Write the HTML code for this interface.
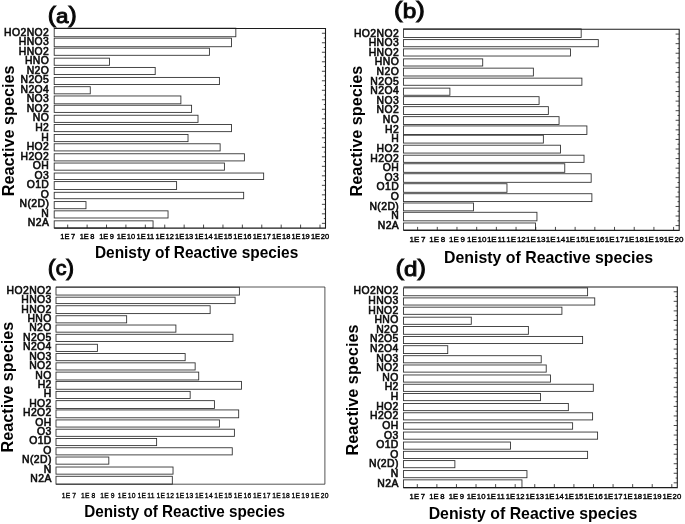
<!DOCTYPE html>
<html lang="en">
<head>
<meta charset="utf-8">
<title>Density of Reactive species</title>
<style>
html,body{margin:0;padding:0;background:#fff;}
body{width:685px;height:524px;overflow:hidden;font-family:"Liberation Sans",sans-serif;}
svg{display:block;}
text{font-family:"Liberation Sans",sans-serif;fill:#000;}
.bars rect{fill:#fff;stroke:#303030;stroke-width:0.88;}
.frame{fill:none;stroke:#1c1c1c;stroke-width:1.08;}
.ticks{fill:none;stroke:#1c1c1c;stroke-width:0.8;}
.ylab text{font-size:10.4px;font-weight:normal;text-anchor:end;stroke:#111;stroke-width:0.6px;letter-spacing:0.42px;}
.xlab text{font-size:8.3px;font-weight:normal;text-anchor:middle;stroke:#000;}
.title{font-size:16.5px;font-weight:bold;text-anchor:middle;}
.ytitle{font-size:16.7px;font-weight:bold;text-anchor:middle;}
.plabel{font-size:21.7px;font-weight:normal;text-anchor:start;stroke:#111;stroke-width:1px;}
</style>
</head>
<body>
<svg width="685" height="524" viewBox="0 0 685 524">
<rect x="0" y="0" width="685" height="524" fill="#fff"/>
<g class="panel">
<g>
<g class="bars">
<rect x="54.2" y="28.18" width="181.63" height="8.56"/>
<rect x="54.2" y="38.17" width="177.34" height="8.56"/>
<rect x="54.2" y="48.16" width="155.22" height="7.14"/>
<rect x="54.2" y="58.15" width="55.33" height="7.14"/>
<rect x="54.2" y="67.43" width="101" height="7.14"/>
<rect x="54.2" y="77.42" width="165.21" height="7.14"/>
<rect x="54.2" y="86.7" width="36.06" height="7.14"/>
<rect x="54.2" y="95.97" width="126.68" height="7.85"/>
<rect x="54.2" y="105.25" width="137.39" height="7.14"/>
<rect x="54.2" y="115.24" width="143.81" height="7.14"/>
<rect x="54.2" y="124.51" width="177.34" height="7.14"/>
<rect x="54.2" y="134.5" width="133.82" height="7.14"/>
<rect x="54.2" y="143.78" width="165.93" height="7.14"/>
<rect x="54.2" y="153.77" width="190.19" height="7.14"/>
<rect x="54.2" y="163.04" width="170.21" height="7.14"/>
<rect x="54.2" y="173.03" width="209.45" height="6.42"/>
<rect x="54.2" y="181.6" width="122.4" height="7.85"/>
<rect x="54.2" y="192.3" width="189.47" height="6.42"/>
<rect x="54.2" y="201.58" width="31.78" height="7.14"/>
<rect x="54.2" y="210.85" width="113.84" height="7.14"/>
<rect x="54.2" y="220.84" width="98.85" height="7.14"/>
</g>
<path class="frame" d="M54.2 28.5H325.5V228.1H54.2"/>
<path class="ticks" d="M67.7 228.1v-3.5M87.11 228.1v-3.5M106.52 228.1v-3.5M125.92 228.1v-3.5M145.33 228.1v-3.5M164.74 228.1v-3.5M184.15 228.1v-3.5M203.55 228.1v-3.5M222.96 228.1v-3.5M242.37 228.1v-3.5M261.78 228.1v-3.5M281.18 228.1v-3.5M300.59 228.1v-3.5M320 228.1v-3.5M325.5 33.25h-3.6M325.5 42.76h-3.6M325.5 52.26h-3.6M325.5 61.77h-3.6M325.5 71.27h-3.6M325.5 80.78h-3.6M325.5 90.28h-3.6M325.5 99.79h-3.6M325.5 109.29h-3.6M325.5 118.8h-3.6M325.5 128.3h-3.6M325.5 137.8h-3.6M325.5 147.31h-3.6M325.5 156.81h-3.6M325.5 166.32h-3.6M325.5 175.82h-3.6M325.5 185.33h-3.6M325.5 194.83h-3.6M325.5 204.34h-3.6M325.5 213.84h-3.6M325.5 223.35h-3.6M325.5 38h-1.7M325.5 47.51h-1.7M325.5 57.01h-1.7M325.5 66.52h-1.7M325.5 76.02h-1.7M325.5 85.53h-1.7M325.5 95.03h-1.7M325.5 104.54h-1.7M325.5 114.04h-1.7M325.5 123.55h-1.7M325.5 133.05h-1.7M325.5 142.56h-1.7M325.5 152.06h-1.7M325.5 161.57h-1.7M325.5 171.07h-1.7M325.5 180.58h-1.7M325.5 190.08h-1.7M325.5 199.59h-1.7M325.5 209.09h-1.7M325.5 218.6h-1.7"/>
</g>
<g class="ylab">
<text x="49.3" y="35.6">HO2NO2</text>
<text x="49.3" y="45.14">HNO3</text>
<text x="49.3" y="54.69">HNO2</text>
<text x="49.3" y="64.23">HNO</text>
<text x="49.3" y="73.77">N2O</text>
<text x="49.3" y="83.31">N2O5</text>
<text x="49.3" y="92.85">N2O4</text>
<text x="49.3" y="102.4">NO3</text>
<text x="49.3" y="111.94">NO2</text>
<text x="49.3" y="121.48">NO</text>
<text x="49.3" y="131.03">H2</text>
<text x="49.3" y="140.57">H</text>
<text x="49.3" y="150.11">HO2</text>
<text x="49.3" y="159.65">H2O2</text>
<text x="49.3" y="169.19">OH</text>
<text x="49.3" y="178.74">O3</text>
<text x="49.3" y="188.28">O1D</text>
<text x="49.3" y="197.82">O</text>
<text x="49.3" y="207.36">N(2D)</text>
<text x="49.3" y="216.91">N</text>
<text x="49.3" y="226.45">N2A</text>
</g>
<g class="xlab">
<text transform="translate(67.7 238.8) scale(0.96 1)" style="font-size:7.8px;stroke-width:0.4px;letter-spacing:0px">1E<tspan dx="1.56">7</tspan></text>
<text transform="translate(87.11 238.8) scale(0.96 1)" style="font-size:7.8px;stroke-width:0.4px;letter-spacing:0px">1E<tspan dx="1.56">8</tspan></text>
<text transform="translate(106.52 238.8) scale(0.96 1)" style="font-size:7.8px;stroke-width:0.4px;letter-spacing:0px">1E<tspan dx="1.56">9</tspan></text>
<text transform="translate(125.92 238.8) scale(0.96 1)" style="font-size:7.8px;stroke-width:0.4px;letter-spacing:0px">1E<tspan dx="0.83">10</tspan></text>
<text transform="translate(145.33 238.8) scale(0.96 1)" style="font-size:7.8px;stroke-width:0.4px;letter-spacing:0px">1E<tspan dx="0.83">11</tspan></text>
<text transform="translate(164.74 238.8) scale(0.96 1)" style="font-size:7.8px;stroke-width:0.4px;letter-spacing:0px">1E<tspan dx="0.83">12</tspan></text>
<text transform="translate(184.15 238.8) scale(0.96 1)" style="font-size:7.8px;stroke-width:0.4px;letter-spacing:0px">1E<tspan dx="0.83">13</tspan></text>
<text transform="translate(203.55 238.8) scale(0.96 1)" style="font-size:7.8px;stroke-width:0.4px;letter-spacing:0px">1E<tspan dx="0.83">14</tspan></text>
<text transform="translate(222.96 238.8) scale(0.96 1)" style="font-size:7.8px;stroke-width:0.4px;letter-spacing:0px">1E<tspan dx="0.83">15</tspan></text>
<text transform="translate(242.37 238.8) scale(0.96 1)" style="font-size:7.8px;stroke-width:0.4px;letter-spacing:0px">1E<tspan dx="0.83">16</tspan></text>
<text transform="translate(261.78 238.8) scale(0.96 1)" style="font-size:7.8px;stroke-width:0.4px;letter-spacing:0px">1E<tspan dx="0.83">17</tspan></text>
<text transform="translate(281.18 238.8) scale(0.96 1)" style="font-size:7.8px;stroke-width:0.4px;letter-spacing:0px">1E<tspan dx="0.83">18</tspan></text>
<text transform="translate(300.59 238.8) scale(0.96 1)" style="font-size:7.8px;stroke-width:0.4px;letter-spacing:0px">1E<tspan dx="0.83">19</tspan></text>
<text transform="translate(320 238.8) scale(0.96 1)" style="font-size:7.8px;stroke-width:0.4px;letter-spacing:0px">1E<tspan dx="0.83">20</tspan></text>
</g>
<text class="title" x="196.6" y="257.7" textLength="203.4" lengthAdjust="spacingAndGlyphs">Denisty of Reactive species</text>
<text class="ytitle" transform="translate(13.5 130.8) rotate(-90)" textLength="130.9" lengthAdjust="spacingAndGlyphs">Reactive species</text>
<text class="plabel" x="47.8" y="22" textLength="28.9" lengthAdjust="spacingAndGlyphs">(<tspan dy="0.9" style="font-size:19.6px">a</tspan><tspan dy="-0.9">)</tspan></text>
</g>
<g class="panel">
<g>
<g class="bars">
<rect x="403.5" y="28.9" width="177.68" height="8.56"/>
<rect x="403.5" y="39.6" width="194.8" height="7.14"/>
<rect x="403.5" y="48.88" width="166.98" height="7.14"/>
<rect x="403.5" y="58.87" width="79.21" height="7.14"/>
<rect x="403.5" y="68.14" width="129.87" height="7.85"/>
<rect x="403.5" y="78.13" width="178.39" height="7.14"/>
<rect x="403.5" y="88.12" width="46.39" height="7.14"/>
<rect x="403.5" y="96.68" width="135.58" height="7.85"/>
<rect x="403.5" y="106.67" width="144.86" height="7.85"/>
<rect x="403.5" y="116.66" width="155.56" height="7.85"/>
<rect x="403.5" y="125.94" width="183.39" height="8.56"/>
<rect x="403.5" y="135.22" width="139.86" height="7.85"/>
<rect x="403.5" y="145.21" width="156.99" height="7.85"/>
<rect x="403.5" y="155.2" width="180.53" height="7.14"/>
<rect x="403.5" y="163.76" width="161.27" height="8.56"/>
<rect x="403.5" y="173.75" width="187.67" height="8.56"/>
<rect x="403.5" y="183.74" width="103.47" height="8.56"/>
<rect x="403.5" y="193.73" width="188.38" height="7.85"/>
<rect x="403.5" y="203" width="69.93" height="7.85"/>
<rect x="403.5" y="212.28" width="133.44" height="8.56"/>
<rect x="403.5" y="222.98" width="132.01" height="7.14"/>
</g>
<path class="frame" d="M403.5 29.3H679.2V230.4H403.5"/>
<path class="ticks" d="M417.6 230.4v-3.5M437.29 230.4v-3.5M456.98 230.4v-3.5M476.68 230.4v-3.5M496.37 230.4v-3.5M516.06 230.4v-3.5M535.75 230.4v-3.5M555.45 230.4v-3.5M575.14 230.4v-3.5M594.83 230.4v-3.5M614.52 230.4v-3.5M634.22 230.4v-3.5M653.91 230.4v-3.5M673.6 230.4v-3.5M679.2 34.09h-3.6M679.2 43.66h-3.6M679.2 53.24h-3.6M679.2 62.82h-3.6M679.2 72.39h-3.6M679.2 81.97h-3.6M679.2 91.55h-3.6M679.2 101.12h-3.6M679.2 110.7h-3.6M679.2 120.27h-3.6M679.2 129.85h-3.6M679.2 139.43h-3.6M679.2 149h-3.6M679.2 158.58h-3.6M679.2 168.15h-3.6M679.2 177.73h-3.6M679.2 187.31h-3.6M679.2 196.88h-3.6M679.2 206.46h-3.6M679.2 216.04h-3.6M679.2 225.61h-3.6M679.2 38.88h-1.7M679.2 48.45h-1.7M679.2 58.03h-1.7M679.2 67.6h-1.7M679.2 77.18h-1.7M679.2 86.76h-1.7M679.2 96.33h-1.7M679.2 105.91h-1.7M679.2 115.49h-1.7M679.2 125.06h-1.7M679.2 134.64h-1.7M679.2 144.21h-1.7M679.2 153.79h-1.7M679.2 163.37h-1.7M679.2 172.94h-1.7M679.2 182.52h-1.7M679.2 192.1h-1.7M679.2 201.67h-1.7M679.2 211.25h-1.7M679.2 220.82h-1.7"/>
</g>
<g class="ylab">
<text x="399.2" y="36.5">HO2NO2</text>
<text x="399.2" y="46.12">HNO3</text>
<text x="399.2" y="55.75">HNO2</text>
<text x="399.2" y="65.37">HNO</text>
<text x="399.2" y="74.99">N2O</text>
<text x="399.2" y="84.62">N2O5</text>
<text x="399.2" y="94.24">N2O4</text>
<text x="399.2" y="103.86">NO3</text>
<text x="399.2" y="113.49">NO2</text>
<text x="399.2" y="123.11">NO</text>
<text x="399.2" y="132.74">H2</text>
<text x="399.2" y="142.36">H</text>
<text x="399.2" y="151.98">HO2</text>
<text x="399.2" y="161.61">H2O2</text>
<text x="399.2" y="171.23">OH</text>
<text x="399.2" y="180.85">O3</text>
<text x="399.2" y="190.48">O1D</text>
<text x="399.2" y="200.1">O</text>
<text x="399.2" y="209.72">N(2D)</text>
<text x="399.2" y="219.35">N</text>
<text x="399.2" y="228.97">N2A</text>
</g>
<g class="xlab">
<text transform="translate(417.6 241.5) scale(0.99 1)" style="font-size:8.1px;stroke-width:0.4px;letter-spacing:0px">1E<tspan dx="1.72">7</tspan></text>
<text transform="translate(437.29 241.5) scale(0.99 1)" style="font-size:8.1px;stroke-width:0.4px;letter-spacing:0px">1E<tspan dx="1.72">8</tspan></text>
<text transform="translate(456.98 241.5) scale(0.99 1)" style="font-size:8.1px;stroke-width:0.4px;letter-spacing:0px">1E<tspan dx="1.72">9</tspan></text>
<text transform="translate(476.68 241.5) scale(0.99 1)" style="font-size:8.1px;stroke-width:0.4px;letter-spacing:0px">1E<tspan dx="0.81">10</tspan></text>
<text transform="translate(496.37 241.5) scale(0.99 1)" style="font-size:8.1px;stroke-width:0.4px;letter-spacing:0px">1E<tspan dx="0.81">11</tspan></text>
<text transform="translate(516.06 241.5) scale(0.99 1)" style="font-size:8.1px;stroke-width:0.4px;letter-spacing:0px">1E<tspan dx="0.81">12</tspan></text>
<text transform="translate(535.75 241.5) scale(0.99 1)" style="font-size:8.1px;stroke-width:0.4px;letter-spacing:0px">1E<tspan dx="0.81">13</tspan></text>
<text transform="translate(555.45 241.5) scale(0.99 1)" style="font-size:8.1px;stroke-width:0.4px;letter-spacing:0px">1E<tspan dx="0.81">14</tspan></text>
<text transform="translate(575.14 241.5) scale(0.99 1)" style="font-size:8.1px;stroke-width:0.4px;letter-spacing:0px">1E<tspan dx="0.81">15</tspan></text>
<text transform="translate(594.83 241.5) scale(0.99 1)" style="font-size:8.1px;stroke-width:0.4px;letter-spacing:0px">1E<tspan dx="0.81">16</tspan></text>
<text transform="translate(614.52 241.5) scale(0.99 1)" style="font-size:8.1px;stroke-width:0.4px;letter-spacing:0px">1E<tspan dx="0.81">17</tspan></text>
<text transform="translate(634.22 241.5) scale(0.99 1)" style="font-size:8.1px;stroke-width:0.4px;letter-spacing:0px">1E<tspan dx="0.81">18</tspan></text>
<text transform="translate(653.91 241.5) scale(0.99 1)" style="font-size:8.1px;stroke-width:0.4px;letter-spacing:0px">1E<tspan dx="0.81">19</tspan></text>
<text transform="translate(673.6 241.5) scale(0.99 1)" style="font-size:8.1px;stroke-width:0.4px;letter-spacing:0px">1E<tspan dx="0.81">20</tspan></text>
</g>
<text class="title" x="548.6" y="262.8" textLength="209.07" lengthAdjust="spacingAndGlyphs">Denisty of Reactive species</text>
<text class="ytitle" transform="translate(362.3 131.1) rotate(-90)" textLength="130.9" lengthAdjust="spacingAndGlyphs">Reactive species</text>
<text class="plabel" x="394.1" y="16.9" textLength="30.7" lengthAdjust="spacingAndGlyphs">(<tspan dy="0.9" style="font-size:20.6px">b</tspan><tspan dy="-0.9">)</tspan></text>
</g>
<g class="panel">
<g>
<g class="bars">
<rect x="56" y="287.2" width="183.39" height="7.85"/>
<rect x="56" y="297.19" width="179.11" height="6.42"/>
<rect x="56" y="305.75" width="154.14" height="7.85"/>
<rect x="56" y="315.74" width="70.65" height="7.14"/>
<rect x="56" y="325.02" width="119.89" height="7.14"/>
<rect x="56" y="334.29" width="176.97" height="7.14"/>
<rect x="56" y="344.28" width="41.4" height="7.14"/>
<rect x="56" y="353.56" width="129.16" height="7.14"/>
<rect x="56" y="362.84" width="139.15" height="7.14"/>
<rect x="56" y="372.11" width="142.72" height="7.85"/>
<rect x="56" y="381.39" width="185.53" height="7.85"/>
<rect x="56" y="391.38" width="134.16" height="7.14"/>
<rect x="56" y="400.65" width="158.42" height="7.85"/>
<rect x="56" y="409.93" width="182.68" height="7.85"/>
<rect x="56" y="419.92" width="163.41" height="7.14"/>
<rect x="56" y="429.2" width="178.4" height="7.14"/>
<rect x="56" y="438.47" width="100.62" height="7.14"/>
<rect x="56" y="447.75" width="176.26" height="7.14"/>
<rect x="56" y="457.02" width="52.82" height="7.14"/>
<rect x="56" y="467.01" width="117.03" height="7.14"/>
<rect x="56" y="476.29" width="116.32" height="7.85"/>
</g>
<path class="frame" style="stroke-width:0.75" d="M56 287H324.9V484.2H56"/>
</g>
<g class="ylab">
<text x="51.8" y="293.8">HO2NO2</text>
<text x="51.8" y="303.22">HNO3</text>
<text x="51.8" y="312.63">HNO2</text>
<text x="51.8" y="322.05">HNO</text>
<text x="51.8" y="331.47">N2O</text>
<text x="51.8" y="340.89">N2O5</text>
<text x="51.8" y="350.31">N2O4</text>
<text x="51.8" y="359.72">NO3</text>
<text x="51.8" y="369.14">NO2</text>
<text x="51.8" y="378.56">NO</text>
<text x="51.8" y="387.98">H2</text>
<text x="51.8" y="397.39">H</text>
<text x="51.8" y="406.81">HO2</text>
<text x="51.8" y="416.23">H2O2</text>
<text x="51.8" y="425.64">OH</text>
<text x="51.8" y="435.06">O3</text>
<text x="51.8" y="444.48">O1D</text>
<text x="51.8" y="453.9">O</text>
<text x="51.8" y="463.31">N(2D)</text>
<text x="51.8" y="472.73">N</text>
<text x="51.8" y="482.15">N2A</text>
</g>
<g class="xlab">
<text transform="translate(68.9 498.3) scale(0.85 1)" style="font-size:7.9px;stroke-width:0.35px;letter-spacing:0.35px">1E<tspan dx="2">7</tspan></text>
<text transform="translate(88.2 498.3) scale(0.85 1)" style="font-size:7.9px;stroke-width:0.35px;letter-spacing:0.35px">1E<tspan dx="2">8</tspan></text>
<text transform="translate(107.5 498.3) scale(0.85 1)" style="font-size:7.9px;stroke-width:0.35px;letter-spacing:0.35px">1E<tspan dx="2">9</tspan></text>
<text transform="translate(126.8 498.3) scale(0.85 1)" style="font-size:7.9px;stroke-width:0.35px;letter-spacing:0.35px">1E<tspan dx="1.18">10</tspan></text>
<text transform="translate(146.1 498.3) scale(0.85 1)" style="font-size:7.9px;stroke-width:0.35px;letter-spacing:0.35px">1E<tspan dx="1.18">11</tspan></text>
<text transform="translate(165.4 498.3) scale(0.85 1)" style="font-size:7.9px;stroke-width:0.35px;letter-spacing:0.35px">1E<tspan dx="1.18">12</tspan></text>
<text transform="translate(184.7 498.3) scale(0.85 1)" style="font-size:7.9px;stroke-width:0.35px;letter-spacing:0.35px">1E<tspan dx="1.18">13</tspan></text>
<text transform="translate(204 498.3) scale(0.85 1)" style="font-size:7.9px;stroke-width:0.35px;letter-spacing:0.35px">1E<tspan dx="1.18">14</tspan></text>
<text transform="translate(223.3 498.3) scale(0.85 1)" style="font-size:7.9px;stroke-width:0.35px;letter-spacing:0.35px">1E<tspan dx="1.18">15</tspan></text>
<text transform="translate(242.6 498.3) scale(0.85 1)" style="font-size:7.9px;stroke-width:0.35px;letter-spacing:0.35px">1E<tspan dx="1.18">16</tspan></text>
<text transform="translate(261.9 498.3) scale(0.85 1)" style="font-size:7.9px;stroke-width:0.35px;letter-spacing:0.35px">1E<tspan dx="1.18">17</tspan></text>
<text transform="translate(281.2 498.3) scale(0.85 1)" style="font-size:7.9px;stroke-width:0.35px;letter-spacing:0.35px">1E<tspan dx="1.18">18</tspan></text>
<text transform="translate(300.5 498.3) scale(0.85 1)" style="font-size:7.9px;stroke-width:0.35px;letter-spacing:0.35px">1E<tspan dx="1.18">19</tspan></text>
<text transform="translate(319.8 498.3) scale(0.85 1)" style="font-size:7.9px;stroke-width:0.35px;letter-spacing:0.35px">1E<tspan dx="1.18">20</tspan></text>
</g>
<text class="title" x="184.6" y="517.3" textLength="200.9" lengthAdjust="spacingAndGlyphs">Denisty of Reactive species</text>
<text class="ytitle" transform="translate(13.4 387.1) rotate(-90)" textLength="130.9" lengthAdjust="spacingAndGlyphs">Reactive species</text>
<text class="plabel" x="47.8" y="274.5" textLength="26.4" lengthAdjust="spacingAndGlyphs">(<tspan dy="0.9" style="font-size:19.6px">c</tspan><tspan dy="-0.9">)</tspan></text>
</g>
<g class="panel">
<g>
<g class="bars">
<rect x="403.5" y="287.91" width="184.1" height="7.85"/>
<rect x="403.5" y="297.9" width="191.24" height="7.14"/>
<rect x="403.5" y="307.18" width="158.41" height="7.14"/>
<rect x="403.5" y="317.17" width="67.79" height="7.14"/>
<rect x="403.5" y="326.45" width="124.88" height="7.85"/>
<rect x="403.5" y="336.43" width="179.11" height="7.14"/>
<rect x="403.5" y="345.71" width="44.25" height="7.85"/>
<rect x="403.5" y="355.7" width="137.72" height="7.14"/>
<rect x="403.5" y="364.98" width="142.72" height="7.14"/>
<rect x="403.5" y="374.97" width="147" height="7.14"/>
<rect x="403.5" y="384.24" width="189.81" height="7.14"/>
<rect x="403.5" y="393.52" width="137.01" height="7.14"/>
<rect x="403.5" y="403.51" width="164.84" height="7.14"/>
<rect x="403.5" y="412.78" width="189.1" height="7.14"/>
<rect x="403.5" y="422.77" width="169.12" height="6.42"/>
<rect x="403.5" y="432.05" width="194.09" height="7.14"/>
<rect x="403.5" y="442.04" width="107.04" height="7.14"/>
<rect x="403.5" y="451.32" width="184.1" height="7.14"/>
<rect x="403.5" y="460.59" width="51.38" height="7.14"/>
<rect x="403.5" y="470.58" width="123.45" height="7.14"/>
<rect x="403.5" y="479.86" width="118.46" height="7.85"/>
</g>
<path class="frame" d="M403.5 287H677.3V487.6H403.5"/>
<path class="ticks" d="M417.3 487.6v-3.5M436.88 487.6v-3.5M456.45 487.6v-3.5M476.03 487.6v-3.5M495.61 487.6v-3.5M515.18 487.6v-3.5M534.76 487.6v-3.5M554.34 487.6v-3.5M573.92 487.6v-3.5M593.49 487.6v-3.5M613.07 487.6v-3.5M632.65 487.6v-3.5M652.22 487.6v-3.5M671.8 487.6v-3.5M677.3 291.78h-3.6M677.3 301.33h-3.6M677.3 310.88h-3.6M677.3 320.43h-3.6M677.3 329.99h-3.6M677.3 339.54h-3.6M677.3 349.09h-3.6M677.3 358.64h-3.6M677.3 368.2h-3.6M677.3 377.75h-3.6M677.3 387.3h-3.6M677.3 396.85h-3.6M677.3 406.4h-3.6M677.3 415.96h-3.6M677.3 425.51h-3.6M677.3 435.06h-3.6M677.3 444.61h-3.6M677.3 454.17h-3.6M677.3 463.72h-3.6M677.3 473.27h-3.6M677.3 482.82h-3.6M677.3 296.55h-1.7M677.3 306.1h-1.7M677.3 315.66h-1.7M677.3 325.21h-1.7M677.3 334.76h-1.7M677.3 344.31h-1.7M677.3 353.87h-1.7M677.3 363.42h-1.7M677.3 372.97h-1.7M677.3 382.52h-1.7M677.3 392.08h-1.7M677.3 401.63h-1.7M677.3 411.18h-1.7M677.3 420.73h-1.7M677.3 430.29h-1.7M677.3 439.84h-1.7M677.3 449.39h-1.7M677.3 458.94h-1.7M677.3 468.5h-1.7M677.3 478.05h-1.7"/>
</g>
<g class="ylab">
<text x="398.8" y="294.3">HO2NO2</text>
<text x="398.8" y="303.92">HNO3</text>
<text x="398.8" y="313.53">HNO2</text>
<text x="398.8" y="323.15">HNO</text>
<text x="398.8" y="332.76">N2O</text>
<text x="398.8" y="342.38">N2O5</text>
<text x="398.8" y="351.99">N2O4</text>
<text x="398.8" y="361.61">NO3</text>
<text x="398.8" y="371.22">NO2</text>
<text x="398.8" y="380.84">NO</text>
<text x="398.8" y="390.45">H2</text>
<text x="398.8" y="400.07">H</text>
<text x="398.8" y="409.68">HO2</text>
<text x="398.8" y="419.3">H2O2</text>
<text x="398.8" y="428.91">OH</text>
<text x="398.8" y="438.52">O3</text>
<text x="398.8" y="448.14">O1D</text>
<text x="398.8" y="457.75">O</text>
<text x="398.8" y="467.37">N(2D)</text>
<text x="398.8" y="476.99">N</text>
<text x="398.8" y="486.6">N2A</text>
</g>
<g class="xlab">
<text transform="translate(417.3 498.5) scale(0.95 1)" style="font-size:8.1px;stroke-width:0.4px;letter-spacing:0px">1E<tspan dx="1.79">7</tspan></text>
<text transform="translate(436.88 498.5) scale(0.95 1)" style="font-size:8.1px;stroke-width:0.4px;letter-spacing:0px">1E<tspan dx="1.79">8</tspan></text>
<text transform="translate(456.45 498.5) scale(0.95 1)" style="font-size:8.1px;stroke-width:0.4px;letter-spacing:0px">1E<tspan dx="1.79">9</tspan></text>
<text transform="translate(476.03 498.5) scale(0.95 1)" style="font-size:8.1px;stroke-width:0.4px;letter-spacing:0px">1E<tspan dx="0.84">10</tspan></text>
<text transform="translate(495.61 498.5) scale(0.95 1)" style="font-size:8.1px;stroke-width:0.4px;letter-spacing:0px">1E<tspan dx="0.84">11</tspan></text>
<text transform="translate(515.18 498.5) scale(0.95 1)" style="font-size:8.1px;stroke-width:0.4px;letter-spacing:0px">1E<tspan dx="0.84">12</tspan></text>
<text transform="translate(534.76 498.5) scale(0.95 1)" style="font-size:8.1px;stroke-width:0.4px;letter-spacing:0px">1E<tspan dx="0.84">13</tspan></text>
<text transform="translate(554.34 498.5) scale(0.95 1)" style="font-size:8.1px;stroke-width:0.4px;letter-spacing:0px">1E<tspan dx="0.84">14</tspan></text>
<text transform="translate(573.92 498.5) scale(0.95 1)" style="font-size:8.1px;stroke-width:0.4px;letter-spacing:0px">1E<tspan dx="0.84">15</tspan></text>
<text transform="translate(593.49 498.5) scale(0.95 1)" style="font-size:8.1px;stroke-width:0.4px;letter-spacing:0px">1E<tspan dx="0.84">16</tspan></text>
<text transform="translate(613.07 498.5) scale(0.95 1)" style="font-size:8.1px;stroke-width:0.4px;letter-spacing:0px">1E<tspan dx="0.84">17</tspan></text>
<text transform="translate(632.65 498.5) scale(0.95 1)" style="font-size:8.1px;stroke-width:0.4px;letter-spacing:0px">1E<tspan dx="0.84">18</tspan></text>
<text transform="translate(652.22 498.5) scale(0.95 1)" style="font-size:8.1px;stroke-width:0.4px;letter-spacing:0px">1E<tspan dx="0.84">19</tspan></text>
<text transform="translate(671.8 498.5) scale(0.95 1)" style="font-size:8.1px;stroke-width:0.4px;letter-spacing:0px">1E<tspan dx="0.84">20</tspan></text>
</g>
<text class="title" x="533" y="519" textLength="208.67" lengthAdjust="spacingAndGlyphs">Denisty of Reactive species</text>
<text class="ytitle" transform="translate(358 390) rotate(-90)" textLength="130.9" lengthAdjust="spacingAndGlyphs">Reactive species</text>
<text class="plabel" x="395.5" y="274.7" textLength="30.4" lengthAdjust="spacingAndGlyphs">(<tspan dy="0.9" style="font-size:20.6px">d</tspan><tspan dy="-0.9">)</tspan></text>
</g>
</svg>
</body>
</html>
